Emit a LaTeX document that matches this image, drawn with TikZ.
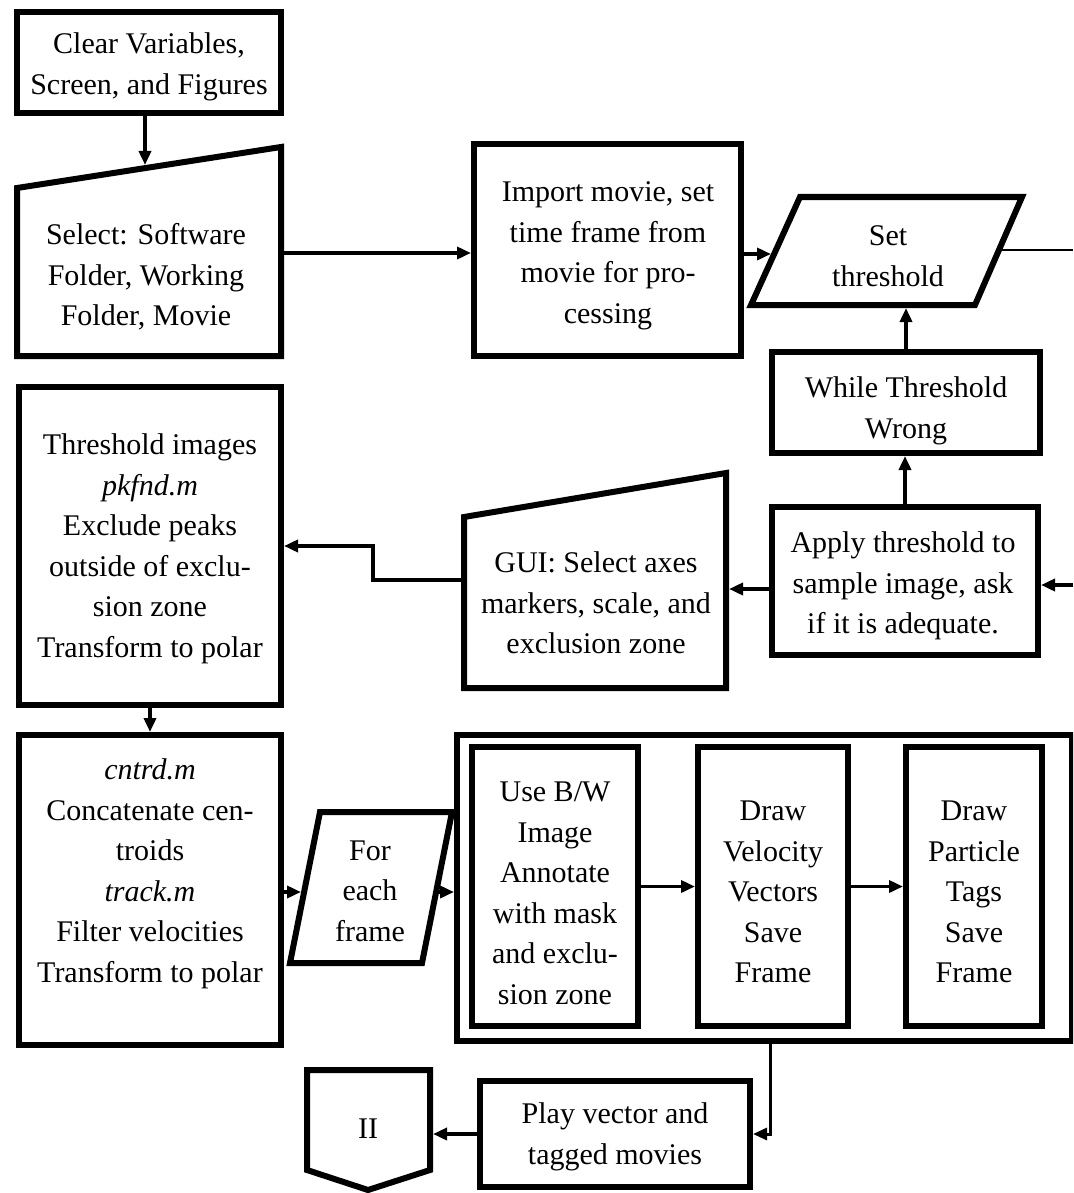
\documentclass[tikz,border=0pt]{standalone}
\usepackage{fontspec}
\setmainfont{Liberation Serif}
\usetikzlibrary{arrows.meta}
\begin{document}
\begin{tikzpicture}[x=1pt,y=-1pt,
  box/.style={draw, line width=6pt, rectangle, inner sep=0pt},
  shp/.style={draw, line width=6pt, line join=miter},
  txt/.style={align=center, font=\fontsize{30}{40.5}\selectfont, inner sep=0pt},
  arr/.style={line width=3.5pt, -{Triangle[length=14pt,width=12pt]}},
  ln/.style={line width=2.5pt}]
\fill[white] (0,0) rectangle (1073,1193);
\clip (0,0) rectangle (1073,1193);

% rectangular boxes
\node[box, minimum width=264pt, minimum height=101pt] (clr) at (149,62.5) {};
\node[box, minimum width=267pt, minimum height=212pt] (imp) at (607.5,250) {};
\node[box, minimum width=268pt, minimum height=101pt] (whl) at (906,402.5) {};
\node[box, minimum width=266pt, minimum height=148pt] (app) at (905,581) {};
\node[box, minimum width=262pt, minimum height=318pt] (thr) at (150,546) {};
\node[box, minimum width=262pt, minimum height=310pt] (cen) at (150,890) {};
\node[box, minimum width=615pt, minimum height=306pt] (outer) at (764.5,888) {};
\node[box, minimum width=166pt, minimum height=279pt] (b1) at (555,886.5) {};
\node[box, minimum width=150pt, minimum height=279pt] (b2) at (773,886.5) {};
\node[box, minimum width=136pt, minimum height=279pt] (b3) at (974,886.5) {};
\node[box, minimum width=270pt, minimum height=106pt] (play) at (615,1134) {};

% other shapes
\draw[shp] (17,188) -- (281,147) -- (281,356) -- (17,356) -- cycle;
\draw[shp] (800,197) -- (1022,197) -- (975,305) -- (751,305) -- cycle;
\draw[shp] (464,517) -- (726,473) -- (726,688) -- (464,688) -- cycle;
\draw[shp] (320,812) -- (452,812) -- (422,963) -- (290,963) -- cycle;
\draw[shp] (307,1070) -- (430,1070) -- (430,1170) -- (368,1190) -- (307,1170) -- cycle;

% texts
\node[txt] (clrT) at (149,67) {Clear Variables,\\Screen, and Figures};
\node[txt] (selT) at (146,277) {Select: Software\\Folder, Working\\Folder, Movie};
\node[txt] (impT) at (608,256) {Import movie, set\\time frame from\\movie for pro-\\cessing};
\node[txt] (setT) at (888,256) {Set\\threshold};
\node[txt] (whlT) at (906,411) {While Threshold\\Wrong};
\node[txt] (appT) at (903,586) {Apply threshold to\\sample image, ask\\if it is adequate.};
\node[txt] (guiT) at (596,603) {GUI: Select axes\\markers, scale, and\\exclusion zone};
\node[txt] (thrT) at (150,549) {Threshold images\\\textit{pkfnd.m}\\Exclude peaks\\outside of exclu-\\sion zone\\Transform to polar};
\node[txt] (cenT) at (150,874) {\textit{cntrd.m}\\Concatenate cen-\\troids\\\textit{track.m}\\Filter velocities\\Transform to polar};
\node[txt] (forT) at (370,891) {For\\each\\frame};
\node[txt] (b1T) at (555,893) {Use B/W\\Image\\Annotate\\with mask\\and exclu-\\sion zone};
\node[txt] (b2T) at (773,892) {Draw\\Velocity\\Vectors\\Save\\Frame};
\node[txt] (b3T) at (974,892) {Draw\\Particle\\Tags\\Save\\Frame};
\node[txt] (playT) at (615,1137) {Play vector and\\tagged movies};
\node[txt] (twoT) at (368,1129) {II};

% connection points
\coordinate (selTop) at (145,165);
\coordinate (selR) at (284,253);
\coordinate (setL) at (771,254);
\coordinate (setR) at (1002,250);
\coordinate (setB) at (906,308);
\coordinate (edgeA) at (1073,250);
\coordinate (edgeB) at (1073,585);
\coordinate (guiL) at (461,580);
\coordinate (guiR) at (729,589);
\coordinate (forL) at (301,892);
\coordinate (forR) at (439,892);
\coordinate (twoR) at (433,1134);

% connectors
\draw[arr] (clr.south -| selTop) -- (selTop);
\draw[arr] (selR) -- (selR -| imp.west);
\draw[arr] (imp.east |- setL) -- (setL);
\draw[ln] (setR) -- (edgeA);
\draw[arr] (whl.north) -- (setB);
\draw[arr] (app.north) -- (app.north |- whl.south);
\draw[arr] (edgeB) -- (app.east |- edgeB);
\draw[arr] (app.west |- guiR) -- (guiR);
\draw[arr] (guiL) -- ++(-88,0) |- (thr.east);
\draw[arr] (thr.south) -- (cen.north);
\draw[arr] (cen.east |- forL) -- (forL);
\draw[arr] (forR) -- (forR -| outer.west);
\draw[arr] (b1.east) -- (b2.west);
\draw[arr] (b2.east) -- (b3.west);
\draw[arr, line width=3pt] ([xshift=5.5pt]outer.south) |- (play.east);
\draw[arr] (play.west) -- (twoR);
\end{tikzpicture}
\end{document}
